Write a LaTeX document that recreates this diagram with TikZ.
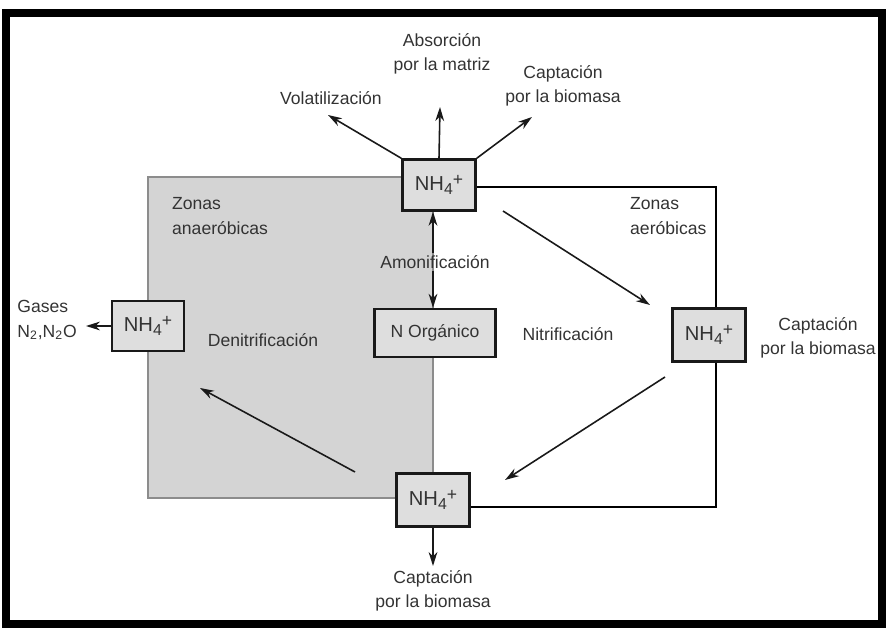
\documentclass[tikz,border=0pt]{standalone}
\usepackage{fontspec}
\setmainfont{Liberation Sans}
\usetikzlibrary{arrows.meta}
\definecolor{txtgray}{HTML}{333333}
\definecolor{zonegray}{HTML}{D4D4D4}
\definecolor{boxgray}{HTML}{DEDEDE}
\newcommand{\nhq}{NH\raisebox{-0.4ex}{\fontsize{9}{9}\selectfont 4}\raisebox{0.5ex}{\fontsize{10}{10}\selectfont +}}
\begin{document}
\begin{tikzpicture}[x=0.02cm,y=-0.02cm,
  nbox/.style={draw=black!90,line width=1.4pt,fill=boxgray,text=txtgray,inner sep=0pt,font=\fontsize{11.5}{14}\selectfont},
  lbl/.style={text=txtgray,align=center,font=\fontsize{10}{14}\selectfont},
  arr/.style={-{Stealth[length=8pt,width=5pt]},line width=0.9pt,draw=black!90}]
\useasboundingbox (0,0) rectangle (886,628);
% frame and anaerobic zone
\draw[line width=4.5pt] (6,13) rectangle (882,624);
\draw[fill=zonegray,draw=black!45,line width=0.8pt] (148,177) rectangle (433,498);
% boxes
\node[nbox,minimum width=1.46cm,minimum height=1.02cm] (nhtop) at (439,185) {\nhq};
\node[nbox,minimum width=1.44cm,minimum height=1cm] (nhleft) at (148,326) {\nhq};
\node[nbox,minimum width=1.46cm,minimum height=1.06cm] (nhright) at (709,335) {\nhq};
\node[nbox,minimum width=1.46cm,minimum height=1.06cm] (nhbot) at (433,500) {\nhq};
\node[nbox,minimum width=2.42cm,minimum height=0.96cm,font=\fontsize{10}{12}\selectfont] (norg) at (435,333) {N Orgánico};
% labels
\node[lbl] (absor) at (442,54) {Absorción\\por la matriz};
\node[lbl] (volat) at (331,98) {Volatilización};
\node[lbl] (captop) at (563,86) {Captación\\por la biomasa};
\node[lbl,align=left,anchor=west,inner sep=0pt] (gases) at (17,320) {Gases\\N\textsubscript{2},N\textsubscript{2}O};
\node[lbl,align=left,anchor=west] (zanaer) at (166,216) {Zonas\\anaeróbicas};
\node[lbl,align=left,anchor=west] (zaer) at (624,216) {Zonas\\aeróbicas};
\node[lbl,inner sep=1pt] (amon) at (435,262) {Amonificación};
\node[lbl] (denit) at (263,340) {Denitrificación};
\node[lbl] (nitr) at (568,334) {Nitrificación};
\node[lbl] (capright) at (818,338) {Captación\\por la biomasa};
\node[lbl] (capbot) at (433,591) {Captación\\por la biomasa};
% aerobic loop
\coordinate (ne) at (716,187);
\coordinate (se) at (716,507);
\draw[line width=1.1pt] (nhtop.east |- ne) -- (ne) -- (ne |- nhright.north);
\draw[line width=1.1pt] (se |- nhright.south) -- (se) -- (se -| nhbot.east);
% free ends
\coordinate (tipAbs) at (440,107);
\coordinate (tipVol) at (328,115);
\coordinate (tipCap) at (532,117);
\coordinate (tipGas) at (86,326);
\coordinate (tipBot) at (433,566);
\coordinate (amAxis) at (433,262);
\coordinate (nitA) at (503,211);
\coordinate (nitB) at (650,305);
\coordinate (dlA) at (665,377);
\coordinate (dlB) at (505,480);
\coordinate (dnA) at (355,472);
\coordinate (dnB) at (200,388);
% arrows
\draw[arr] (nhtop.north) -- (tipAbs);
\draw[arr] (nhtop.north west) -- (tipVol);
\draw[arr] (nhtop.north east) -- (tipCap);
\draw[arr] (nhleft.west) -- (tipGas);
\draw[arr] (nhbot.south) -- (tipBot);
\draw[arr] (amAxis |- amon.north) -- (amAxis |- nhtop.south);
\draw[arr] (amAxis |- amon.south) -- (amAxis |- norg.north);
\draw[arr] (nitA) -- (nitB);
\draw[arr] (dlA) -- (dlB);
\draw[arr] (dnA) -- (dnB);
\end{tikzpicture}
\end{document}
